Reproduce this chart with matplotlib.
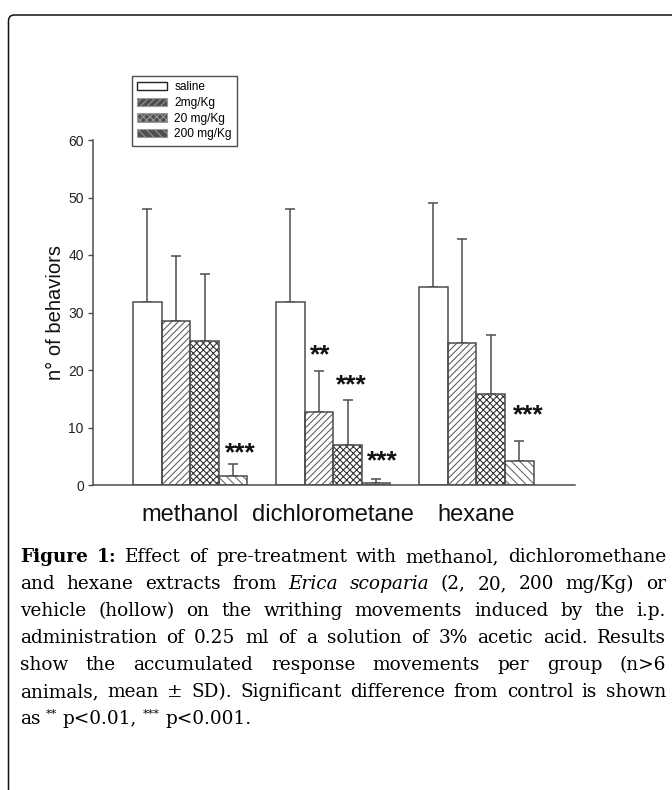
import matplotlib
matplotlib.use("Agg")
import matplotlib.pyplot as plt
from matplotlib.patches import Patch, FancyBboxPatch
import numpy as np

# ---- data -------------------------------------------------------------
extracts = ["methanol", "dichlorometane", "hexane"]
doses = ["saline", "2mg/Kg", "20 mg/Kg", "200 mg/Kg"]

# mean number of behaviours for each dose (saline, 2, 20, 200 mg/Kg)
mean_methanol = [31.8, 28.5, 25.1, 1.6]
mean_dichloro = [31.8, 12.7, 7.0, 0.4]
mean_hexane = [34.5, 24.7, 15.9, 4.1]

# standard deviations (drawn upward only)
sd_methanol = [16.2, 11.3, 11.6, 2.1]
sd_dichloro = [16.2, 7.2, 7.8, 0.6]
sd_hexane = [14.6, 18.0, 10.2, 3.55]

# significance versus control: (extract index, dose index, label)
significance = [(0, 3, "***"), (1, 1, "**"), (1, 2, "***"), (1, 3, "***"), (2, 3, "***")]

yticks = [0, 10, 20, 30, 40, 50, 60]
ylabel = "n° of behaviors"

# ---- styling ----------------------------------------------------------
plt.rcParams["font.family"] = ["Liberation Sans", "DejaVu Sans"]
plt.rcParams["hatch.linewidth"] = 0.75

edge = "#4d4d4d"
hatches = [None, "/////", "xxxxx", "\\\\\\\\"]
hatch_edges = [edge, "#5a5a5a", "#2e2e2e", "#666666"]
# offsets (points) of the significance marks from the top of their error bar
star_offsets = [(5.4, 13.5), (0.7, 17.0), (2.5, 16.6), (4.3, 18.7), (6.5, 24.5)]

fig = plt.figure(figsize=(6.72, 7.90), dpi=100)
ax = fig.add_axes([93 / 672, 1 - 485 / 790, 482 / 672, 345 / 790])

means = np.array([mean_methanol, mean_dichloro, mean_hexane])
sds = np.array([sd_methanol, sd_dichloro, sd_hexane])
group_step = 5.0
bar_w = 1.0

for k in range(len(doses)):
    xs = np.arange(len(extracts)) * group_step + k * bar_w + bar_w / 2
    ax.bar(xs, means[:, k], width=bar_w, color="white", edgecolor=hatch_edges[k],
           hatch=hatches[k], linewidth=0, zorder=2)
    ax.bar(xs, means[:, k], width=bar_w, fill=False, edgecolor=edge, linewidth=1.1, zorder=3)
    ax.errorbar(xs, means[:, k], yerr=[np.zeros(len(extracts)), sds[:, k]], fmt="none",
                ecolor=edge, elinewidth=1.1, capsize=3.6, capthick=1.1, zorder=1)

for (g, k, lab), (dx, dy) in zip(significance, star_offsets):
    x = g * group_step + k * bar_w + bar_w / 2
    y = means[g, k] + sds[g, k]
    ax.annotate(lab, xy=(x, y), xytext=(dx, dy - 11.0), textcoords="offset points",
                ha="center", va="baseline", fontsize=19, fontweight="bold", color="#111111")

ax.set_xlim(-1.40, 15.45)
ax.set_ylim(0, 60)
ax.set_yticks(yticks)
ax.set_xticks(np.arange(len(extracts)) * group_step + 2 * bar_w)
ax.set_xticklabels(extracts, fontsize=17, color="#111111")
ax.tick_params(axis="x", length=0, pad=14)
ax.tick_params(axis="y", direction="out", length=3.6, width=1.0, color=edge,
               labelsize=10, labelcolor="#222222", pad=3)
for s in ("top", "right"):
    ax.spines[s].set_visible(False)
for s in ("left", "bottom"):
    ax.spines[s].set_color(edge)
    ax.spines[s].set_linewidth(1.1)
ax.set_ylabel(ylabel, fontsize=14.5, color="#111111", labelpad=2)

handles = [Patch(facecolor="white", edgecolor="#222222", linewidth=1.0)]
for k in range(1, len(doses)):
    handles.append(Patch(facecolor="#4e4e4e", edgecolor="#9a9a9a", hatch=hatches[k], linewidth=0.8))
leg = fig.legend(handles, doses, loc="upper left", bbox_to_anchor=(132 / 672, 1 - 76 / 790),
                 borderaxespad=0, fontsize=8.6, handlelength=2.5, handleheight=0.7,
                 handletextpad=0.6, labelspacing=0.3, borderpad=0.45, fancybox=False,
                 frameon=True)
leg.get_frame().set_edgecolor("#222222")
leg.get_frame().set_linewidth(1.0)

# ---- border of the figure panel -----------------------------------------
frame = FancyBboxPatch((0.085, -1.0), 10.0, 7.75 + 1.0,
                       boxstyle="round,pad=0,rounding_size=0.06",
                       transform=fig.dpi_scale_trans, fill=False,
                       edgecolor="#111111", linewidth=1.1, clip_on=False)
fig.patches.append(frame)

# ---- caption (justified) -----------------------------------------------
R = {}
B = {"fontweight": "bold"}
I = {"fontstyle": "italic"}


def words(s, style=R):
    return [(w, style, 0) for w in s.split()]


caption_lines = [
    words("Figure 1:", B) + words("Effect of pre-treatment with methanol, dichloromethane"),
    words("and hexane extracts from") + words("Erica scoparia", I) + words("(2, 20, 200 mg/Kg) or"),
    words("vehicle (hollow) on the writhing movements induced by the i.p."),
    words("administration of 0.25 ml of a solution of 3% acetic acid. Results"),
    words("show the accumulated response movements per group (n>6"),
    words("animals, mean ± SD). Significant difference from control is shown"),
    [("as", R, 0), ("**", R, 1), ("p<0.01,", R, 0), ("***", R, 1), ("p<0.001.", R, 0)],
]

cap_family = "DejaVu Serif"
cap_size = 13.3
x_left, x_right = 20, 666
base0, line_step = 562, 27
fig.canvas.draw()
renderer = fig.canvas.get_renderer()
space_px = 0.3 * cap_size * 100 / 72

for li, line in enumerate(caption_lines):
    yb = base0 + li * line_step
    objs = []
    for txt, style, sup in line:
        size = cap_size * (0.6 if sup else 1.0)
        ypix = yb - (7 if sup else 0)
        t = fig.text(0, 1 - ypix / 790, txt, fontsize=size, family=cap_family,
                     va="baseline", ha="left", color="black", **style)
        objs.append(t)
    widths = [t.get_window_extent(renderer).width for t in objs]
    last = li == len(caption_lines) - 1
    if last:
        gap = space_px
    else:
        gap = max((x_right - x_left - sum(widths)) / (len(objs) - 1), 2.0)
    x = x_left
    for t, w in zip(objs, widths):
        t.set_x(x / 672)
        x += w + gap

fig.savefig("out.png", dpi=100)
